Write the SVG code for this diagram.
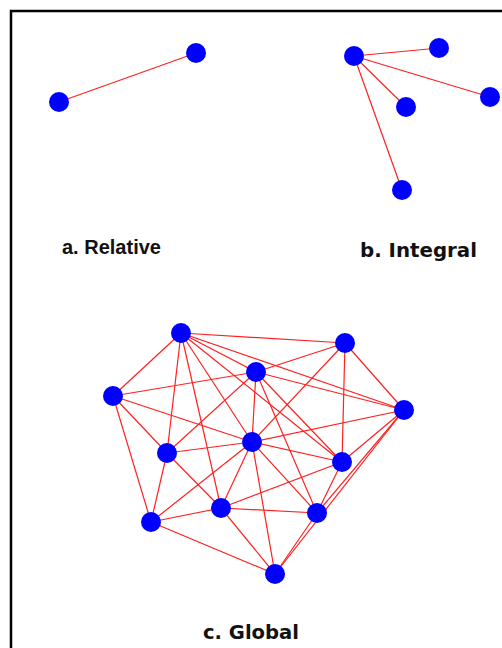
<svg xmlns="http://www.w3.org/2000/svg" width="502" height="648" viewBox="0 0 502 648">
<style>
.e{stroke:#ff2020;stroke-width:1.2;fill:none}
.n{fill:#0000ff}
.la{font-family:"Liberation Sans",Arial,sans-serif;font-weight:bold;font-size:20px;fill:#111}
.lb{font-family:"DejaVu Sans",Verdana,sans-serif;font-weight:bold;font-size:20px;fill:#111}
</style>
<rect width="502" height="648" fill="#fff"/>
<path d="M11,648 V11 H502" fill="none" stroke="#000" stroke-width="2.5"/>
<g id="connectors">
<line class="e" x1="59" y1="102" x2="196" y2="53"/>
<line class="e" x1="354" y1="56" x2="439" y2="48"/>
<line class="e" x1="354" y1="56" x2="490" y2="97"/>
<line class="e" x1="354" y1="56" x2="406" y2="107"/>
<line class="e" x1="354" y1="56" x2="402" y2="190"/>
<line class="e" x1="181" y1="333" x2="345" y2="343"/>
<line class="e" x1="181" y1="333" x2="256" y2="372"/>
<line class="e" x1="181" y1="333" x2="113" y2="396"/>
<line class="e" x1="181" y1="333" x2="404" y2="410"/>
<line class="e" x1="181" y1="333" x2="167" y2="453"/>
<line class="e" x1="181" y1="333" x2="252" y2="442"/>
<line class="e" x1="181" y1="333" x2="342" y2="462"/>
<line class="e" x1="181" y1="333" x2="221" y2="508"/>
<line class="e" x1="345" y1="343" x2="256" y2="372"/>
<line class="e" x1="345" y1="343" x2="404" y2="410"/>
<line class="e" x1="345" y1="343" x2="342" y2="462"/>
<line class="e" x1="345" y1="343" x2="252" y2="442"/>
<line class="e" x1="256" y1="372" x2="113" y2="396"/>
<line class="e" x1="256" y1="372" x2="404" y2="410"/>
<line class="e" x1="256" y1="372" x2="167" y2="453"/>
<line class="e" x1="256" y1="372" x2="252" y2="442"/>
<line class="e" x1="256" y1="372" x2="342" y2="462"/>
<line class="e" x1="256" y1="372" x2="317" y2="513"/>
<line class="e" x1="113" y1="396" x2="167" y2="453"/>
<line class="e" x1="113" y1="396" x2="252" y2="442"/>
<line class="e" x1="113" y1="396" x2="151" y2="522"/>
<line class="e" x1="404" y1="410" x2="252" y2="442"/>
<line class="e" x1="404" y1="410" x2="342" y2="462"/>
<line class="e" x1="404" y1="410" x2="317" y2="513"/>
<line class="e" x1="404" y1="410" x2="275" y2="574"/>
<line class="e" x1="167" y1="453" x2="252" y2="442"/>
<line class="e" x1="167" y1="453" x2="151" y2="522"/>
<line class="e" x1="167" y1="453" x2="221" y2="508"/>
<line class="e" x1="252" y1="442" x2="342" y2="462"/>
<line class="e" x1="252" y1="442" x2="151" y2="522"/>
<line class="e" x1="252" y1="442" x2="221" y2="508"/>
<line class="e" x1="252" y1="442" x2="317" y2="513"/>
<line class="e" x1="252" y1="442" x2="275" y2="574"/>
<line class="e" x1="342" y1="462" x2="221" y2="508"/>
<line class="e" x1="342" y1="462" x2="317" y2="513"/>
<line class="e" x1="151" y1="522" x2="221" y2="508"/>
<line class="e" x1="151" y1="522" x2="275" y2="574"/>
<line class="e" x1="221" y1="508" x2="317" y2="513"/>
<line class="e" x1="221" y1="508" x2="275" y2="574"/>
<line class="e" x1="317" y1="513" x2="275" y2="574"/>
</g>
<g id="a1"><circle class="n" cx="59" cy="102" r="10"/></g>
<g id="a2"><circle class="n" cx="196" cy="53" r="10"/></g>
<g id="b1"><circle class="n" cx="354" cy="56" r="10"/></g>
<g id="b2"><circle class="n" cx="439" cy="48" r="10"/></g>
<g id="b3"><circle class="n" cx="490" cy="97" r="10"/></g>
<g id="b4"><circle class="n" cx="406" cy="107" r="10"/></g>
<g id="b5"><circle class="n" cx="402" cy="190" r="10"/></g>
<g id="cA"><circle class="n" cx="181" cy="333" r="10"/></g>
<g id="cB"><circle class="n" cx="345" cy="343" r="10"/></g>
<g id="cC"><circle class="n" cx="256" cy="372" r="10"/></g>
<g id="cD"><circle class="n" cx="113" cy="396" r="10"/></g>
<g id="cE"><circle class="n" cx="404" cy="410" r="10"/></g>
<g id="cF"><circle class="n" cx="167" cy="453" r="10"/></g>
<g id="cG"><circle class="n" cx="252" cy="442" r="10"/></g>
<g id="cH"><circle class="n" cx="342" cy="462" r="10"/></g>
<g id="cI"><circle class="n" cx="151" cy="522" r="10"/></g>
<g id="cJ"><circle class="n" cx="221" cy="508" r="10"/></g>
<g id="cK"><circle class="n" cx="317" cy="513" r="10"/></g>
<g id="cL"><circle class="n" cx="275" cy="574" r="10"/></g>
<g id="labels">
<text class="la" x="62" y="254">a. Relative</text>
<text class="lb" x="360" y="256.5" textLength="117" lengthAdjust="spacingAndGlyphs">b. Integral</text>
<text class="lb" x="203" y="638.5" textLength="96" lengthAdjust="spacingAndGlyphs">c. Global</text>
</g>
</svg>
